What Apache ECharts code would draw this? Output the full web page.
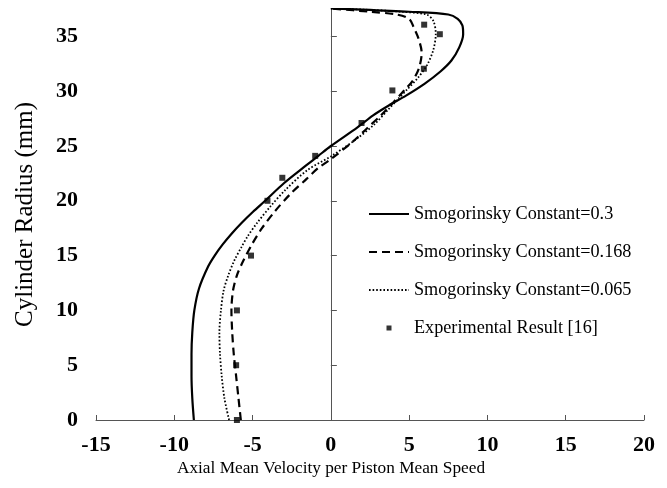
<!DOCTYPE html>
<html><head><meta charset="utf-8">
<script src="https://cdn.jsdelivr.net/npm/echarts@6/dist/echarts.min.js"></script>
<style>html,body{margin:0;padding:0;background:#fff}#chart{width:667px;height:488px}</style>
</head><body><div id="chart"></div>
<script>
// ---- data (velocity, radius) ----
const xTicks = [-15, -10, -5, 0, 5, 10, 15, 20];
const yTicks = [0, 5, 10, 15, 20, 25, 30, 35];
const seriesNames = ['Smogorinsky Constant=0.3', 'Smogorinsky Constant=0.168', 'Smogorinsky Constant=0.065', 'Experimental Result [16]'];

const smag030 = [[-8.75,0],[-8.85,2],[-8.9,4],[-8.9,6],[-8.85,8],[-8.72,10],[-8.42,12],[-7.84,14],[-7.42,15],[-6.92,16],[-6.34,17],[-5.69,18],[-4.97,19],[-4.2,20],[-3.0,21.6],[-1.6,23.2],[-0.8,24.1],[0,25],[1.7,26.7],[2.7,27.8],[3.7,28.7],[4.8,29.6],[6.0,30.7],[7.0,31.8],[7.7,32.8],[8.2,34],[8.45,35.2],[8.4,36],[8.1,36.6],[7.5,37.0],[5,37.25],[2,37.45],[0,37.55]];
const smag0168 = [[-5.75,0],[-5.9,2],[-6.05,4],[-6.2,6],[-6.3,8],[-6.35,10],[-6.25,11.8],[-6.0,13.2],[-5.6,14.5],[-5.05,16],[-4.4,17.5],[-3.6,19],[-2.6,20.6],[-1.55,22],[-0.8,23],[0,23.8],[1.4,25.4],[2.3,26.6],[3.2,27.8],[4.0,29.0],[4.7,30.1],[5.25,31.0],[5.65,32.2],[5.8,33.5],[5.6,34.8],[5.3,35.8],[5.0,36.6],[4.2,37.0],[2.5,37.25],[0,37.55]];
const smag0065 = [[-6.5,0],[-6.8,2],[-6.97,4],[-7.08,6],[-7.12,8],[-7.02,10],[-6.85,11.8],[-6.55,13.2],[-6.15,14.6],[-5.7,15.8],[-5.3,16.8],[-4.7,18],[-3.85,19.5],[-2.9,21],[-1.5,22.8],[0,24.05],[1.6,25.6],[2.8,27],[3.65,28.3],[4.3,29.3],[4.9,30.2],[5.55,31.2],[6.15,32.4],[6.55,33.8],[6.7,35.2],[6.55,36.4],[6.1,37.0],[4.5,37.25],[2,37.45],[0,37.55]];
const experiment = [[-6,0],[-6.05,5],[-6,10],[-5.1,15],[-4.05,20],[-3.1,22.1],[-1.0,24.1],[1.96,27.1],[3.93,30.07],[5.94,32.05],[6.96,35.2],[5.96,36.07],[0,37.6]];

const serif = '"Liberation Serif","Times New Roman",serif';
const axisColor = '#555';
const hidden = { color: 'rgba(0,0,0,0)', borderWidth: 0, opacity: 0 };

const chart = echarts.init(document.getElementById('chart'));
chart.setOption({
  animation: false,
  backgroundColor: '#fff',
  title: {
    text: 'Axial Mean Velocity per Piston Mean Speed',
    left: 326, top: 455, textAlign: 'center',
    textStyle: { fontFamily: serif, fontSize: 17.3, fontWeight: 'normal', color: '#000' }
  },
  grid: { left: 96, right: 23, top: 9, bottom: 68 },
  legend: {
    orient: 'vertical', left: 363, top: 199,
    itemWidth: 40, itemHeight: 14, itemGap: 18,
    data: [
      { name: seriesNames[0], itemStyle: hidden },
      { name: seriesNames[1], itemStyle: hidden },
      { name: seriesNames[2], itemStyle: hidden },
      { name: seriesNames[3], icon: 'path://M0,0M14,14M4.5,4.5h5v5h-5z' }
    ],
    textStyle: { fontFamily: serif, fontSize: 18.2, color: '#000', lineHeight: 20 }
  },
  xAxis: {
    type: 'value', min: -15, max: 20, interval: 5,
    splitLine: { show: false },
    axisLine: { onZero: false, lineStyle: { color: axisColor, width: 1 } },
    axisTick: { inside: true, length: 5, lineStyle: { color: axisColor } },
    axisLabel: { margin: 14, fontFamily: serif, fontSize: 22, fontWeight: 'bold', color: '#000',
      customValues: xTicks, formatter: v => String(v) }
  },
  yAxis: [
    {
      type: 'value', min: 0, max: 37.5, interval: 5, position: 'left',
      name: 'Cylinder Radius (mm)', nameLocation: 'middle', nameGap: 58,
      nameTextStyle: { fontFamily: serif, fontSize: 25, color: '#000' },
      splitLine: { show: false },
      axisLine: { show: false, onZero: false },
      axisTick: { show: false },
      axisLabel: { margin: 18, fontFamily: serif, fontSize: 22, fontWeight: 'bold', color: '#000',
        customValues: yTicks }
    },
    {
      type: 'value', min: 0, max: 37.5, interval: 5, position: 'right',
      splitLine: { show: false },
      axisLine: { show: true, onZero: true, lineStyle: { color: axisColor, width: 1 } },
      axisTick: { show: true, length: 6, customValues: yTicks, lineStyle: { color: axisColor } },
      axisLabel: { show: false }
    }
  ],
  series: [
    { name: seriesNames[0], type: 'line', data: smag030, smooth: 0.3, symbol: 'none',
      lineStyle: { color: '#000', width: 2.2, type: 'solid' }, itemStyle: { color: '#000' }, z: 3 },
    { name: seriesNames[1], type: 'line', data: smag0168, smooth: 0.3, symbol: 'none',
      lineStyle: { color: '#000', width: 2.2, type: [8, 5] }, itemStyle: { color: '#000' }, z: 3 },
    { name: seriesNames[2], type: 'line', data: smag0065, smooth: 0.3, symbol: 'none',
      lineStyle: { color: '#000', width: 1.8, type: [1.6, 2] }, itemStyle: { color: '#000' }, z: 3 },
    { name: seriesNames[3], type: 'scatter', data: experiment, symbol: 'rect', symbolSize: 6,
      itemStyle: { color: '#000' }, z: 4 }
  ]
});
</script></body></html>
